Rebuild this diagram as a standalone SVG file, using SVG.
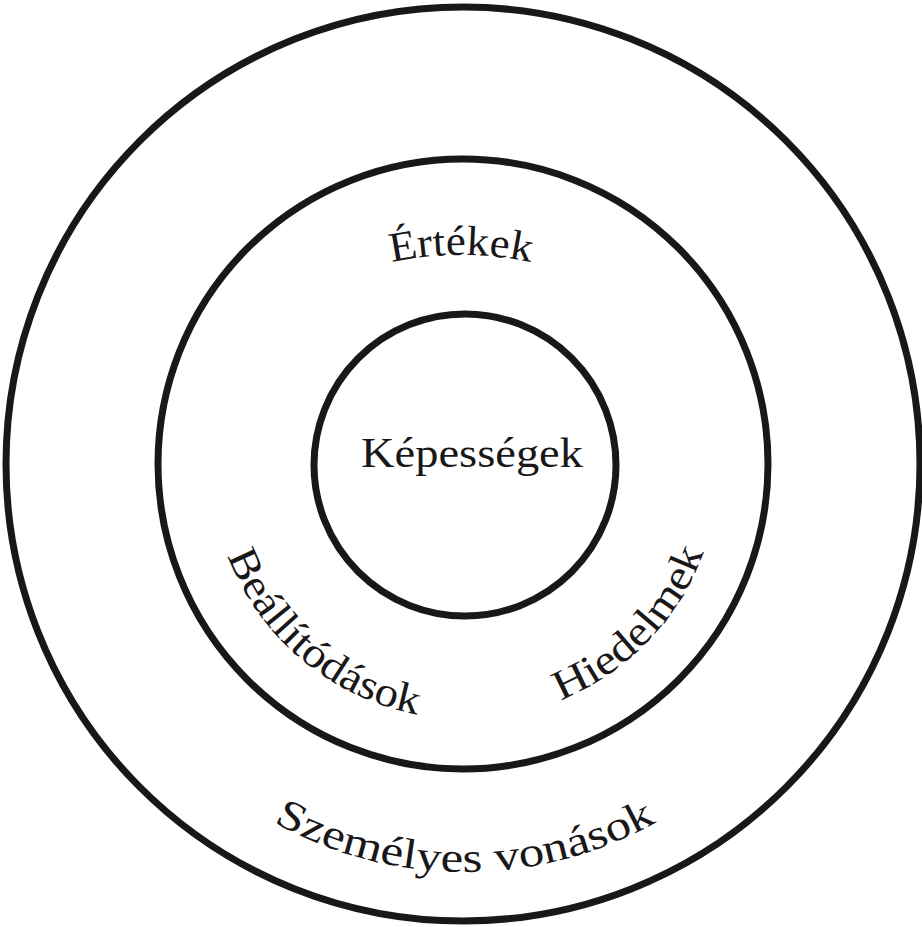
<svg xmlns="http://www.w3.org/2000/svg" width="922" height="927" viewBox="0 0 922 927">
<style>
.ring{fill:none;stroke:#1a1718;stroke-width:7}
.lbl{font-family:"Liberation Serif","DejaVu Serif",serif;font-size:42px;fill:#1a1718}
</style>
<defs>
<path id="pTop" d="M 330 282 A 330 330 0 0 1 592 282"/>
<path id="pBea" d="M 211.8 487.2 A 254 254 0 0 0 487.2 718.0"/>
<path id="pHie" d="M 552.0 703.6 A 254 254 0 0 0 706.6 543.5"/>
<path id="pSze" d="M 125 676 A 393 393 0 0 0 805 676"/>
</defs>
<rect width="922" height="927" fill="#ffffff"/>
<g id="outer">
<circle class="ring" cx="463" cy="464" r="457"/>
<text class="lbl"><textPath href="#pSze" startOffset="50%" text-anchor="middle" textLength="400" lengthAdjust="spacingAndGlyphs">Személyes vonások</textPath></text>
</g>
<g id="middle">
<circle class="ring" cx="463" cy="464" r="305"/>
<text class="lbl"><textPath href="#pTop" startOffset="50%" text-anchor="middle" textLength="140" lengthAdjust="spacingAndGlyphs">Értékek</textPath></text>
<text class="lbl"><textPath href="#pBea" startOffset="50%" text-anchor="middle" textLength="258" lengthAdjust="spacingAndGlyphs">Beállítódások</textPath></text>
<text class="lbl"><textPath href="#pHie" startOffset="50%" text-anchor="middle" textLength="212" lengthAdjust="spacingAndGlyphs">Hiedelmek</textPath></text>
</g>
<g id="inner">
<circle class="ring" cx="465" cy="465" r="151"/>
<text class="lbl" x="472" y="467" text-anchor="middle" textLength="222" lengthAdjust="spacingAndGlyphs">Képességek</text>
</g>
</svg>
